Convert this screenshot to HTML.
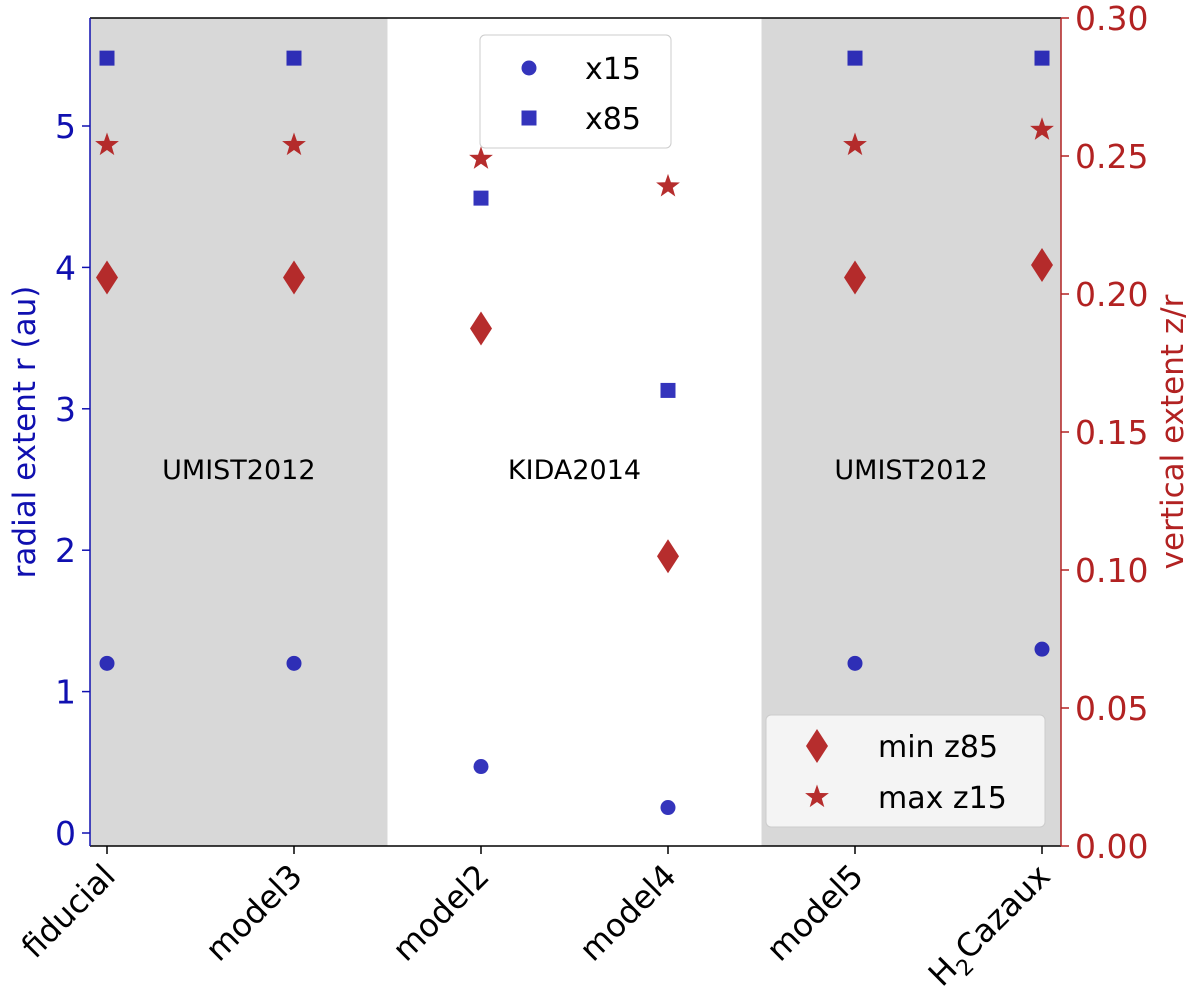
<!DOCTYPE html>
<html><head><meta charset="utf-8"><style>body{margin:0;background:#fff}svg{display:block;font-family:"DejaVu Sans","Liberation Sans",sans-serif}</style></head>
<body>
<svg id="chart" width="1200" height="1006" viewBox="0 0 1200 1006"></svg>
<script>
const categories=["fiducial","model3","model2","model4","model5","H2Cazaux"];
const x15=[1.2,1.2,0.47,0.18,1.2,1.3];
const x85=[5.48,5.48,4.49,3.13,5.48,5.48];
const minZ85=[0.206,0.206,0.1875,0.105,0.206,0.2105];
const maxZ15=[0.254,0.254,0.249,0.239,0.254,0.2595];
const leftTicks=[0,1,2,3,4,5];
const rightTicks=[0,0.05,0.10,0.15,0.20,0.25,0.30];
const bands=[{from:-0.09,to:1.5,label:"UMIST2012",shade:true},{from:1.5,to:3.5,label:"KIDA2014",shade:false},{from:3.5,to:5.1,label:"UMIST2012",shade:true}];

const L=90,R=1061,T=18,B=846;
const X=i=>107+i*187;
const YL=v=>833-v*141.4;
const YR=v=>B-v/0.3*(B-T);
const svg=document.getElementById('chart');
const NS="http://www.w3.org/2000/svg";
function mk(tag,attrs,parent){const e=document.createElementNS(NS,tag);for(const k in attrs)e.setAttribute(k,attrs[k]);(parent||svg).appendChild(e);return e;}
const BLUE="#1010b0",RED="#b22222";

bands.forEach((b,i)=>{
  const x1=Math.max(L,X(b.from)),x2=Math.min(R,X(b.to));
  if(b.shade){const r=mk('rect',{x:x1,y:T,width:x2-x1,height:B-T,fill:'#d8d8d8'});
  
  }
  const t=mk('text',{x:(x1+x2)/2,y:479,'text-anchor':'middle','font-size':27,fill:'#000'});t.textContent=b.label;
  
  
});

mk('line',{x1:L,y1:T,x2:R,y2:T,stroke:'#000','stroke-width':1.5});
mk('line',{x1:L,y1:B,x2:R,y2:B,stroke:'#000','stroke-width':1.5});
mk('line',{x1:L,y1:T,x2:L,y2:B,stroke:BLUE,'stroke-width':1.5});
mk('line',{x1:R,y1:T,x2:R,y2:B,stroke:RED,'stroke-width':1.5});

leftTicks.forEach(v=>{const y=YL(v);mk('line',{x1:L-8,y1:y,x2:L,y2:y,stroke:BLUE,'stroke-width':1.5});
 const t=mk('text',{x:L-14,y:y+12,'text-anchor':'end','font-size':33,fill:BLUE});t.textContent=v;
 
 });
rightTicks.forEach(v=>{const y=YR(v);mk('line',{x1:R,y1:y,x2:R+8,y2:y,stroke:RED,'stroke-width':1.5});
 const t=mk('text',{x:R+14,y:y+12,'font-size':33,fill:RED});t.textContent=v.toFixed(2);
 
 });
categories.forEach((c,i)=>{const x=X(i);mk('line',{x1:x,y1:B,x2:x,y2:B+8,stroke:'#000','stroke-width':1.5});
 const t=mk('text',{x:0,y:0,'text-anchor':'end','font-size':32,fill:'#000',transform:`translate(${x+10},${B+32}) rotate(-45)`});
 if(c==="H2Cazaux"){t.innerHTML='H<tspan font-size="22" dy="9">2</tspan><tspan dy="-9">Cazaux</tspan>';}else t.textContent=c;
 
 });

let t=mk('text',{x:0,y:0,'text-anchor':'middle','font-size':31,fill:BLUE,transform:`translate(35,${(T+B)/2}) rotate(-90)`});t.textContent='radial extent r (au)';


t=mk('text',{x:0,y:0,'text-anchor':'middle','font-size':31,fill:RED,transform:`translate(1183,${(T+B)/2}) rotate(-90)`});t.textContent='vertical extent z/r';



function circle(x,y,p){return mk('circle',{cx:x,cy:y,r:7.5,fill:BLUE,'fill-opacity':0.85},p);}
function square(x,y,p){return mk('rect',{x:x-7.5,y:y-7.5,width:15,height:15,fill:BLUE,'fill-opacity':0.85},p);}
function diamond(x,y,p){return mk('polygon',{points:`${x},${y-17} ${x+11},${y} ${x},${y+17} ${x-11},${y}`,fill:RED,'fill-opacity':0.95},p);}
function star(x,y,p){let pts=[];for(let k=0;k<10;k++){const r=k%2?5:12.5,a=-Math.PI/2+k*Math.PI/5;pts.push((x+r*Math.cos(a)).toFixed(1)+','+(y+r*Math.sin(a)).toFixed(1));}
 return mk('polygon',{points:pts.join(' '),fill:RED,'fill-opacity':0.95},p);}

categories.forEach((c,i)=>{const x=X(i);
 let e=circle(x,YL(x15[i]));
 e=square(x,YL(x85[i]));
 e=diamond(x,YR(minZ85[i]));
 e=star(x,YR(maxZ15[i]));
});

let g=mk('g',{});
mk('rect',{x:480,y:35,width:191,height:113,rx:5,fill:'#fff','fill-opacity':0.9,stroke:'#ccc'},g);
circle(529,68,g);square(529,118,g);
t=mk('text',{x:585,y:79,'font-size':30},g);t.textContent='x15';
t=mk('text',{x:585,y:129,'font-size':30},g);t.textContent='x85';
g=mk('g',{});
mk('rect',{x:766,y:715,width:279,height:112,rx:5,fill:'#f6f6f6','fill-opacity':0.95,stroke:'#ccc'},g);
diamond(817,746,g);star(817,797,g);
t=mk('text',{x:878,y:757,'font-size':30},g);t.textContent='min z85';
t=mk('text',{x:878,y:808,'font-size':30},g);t.textContent='max z15';
</script>
</body></html>
